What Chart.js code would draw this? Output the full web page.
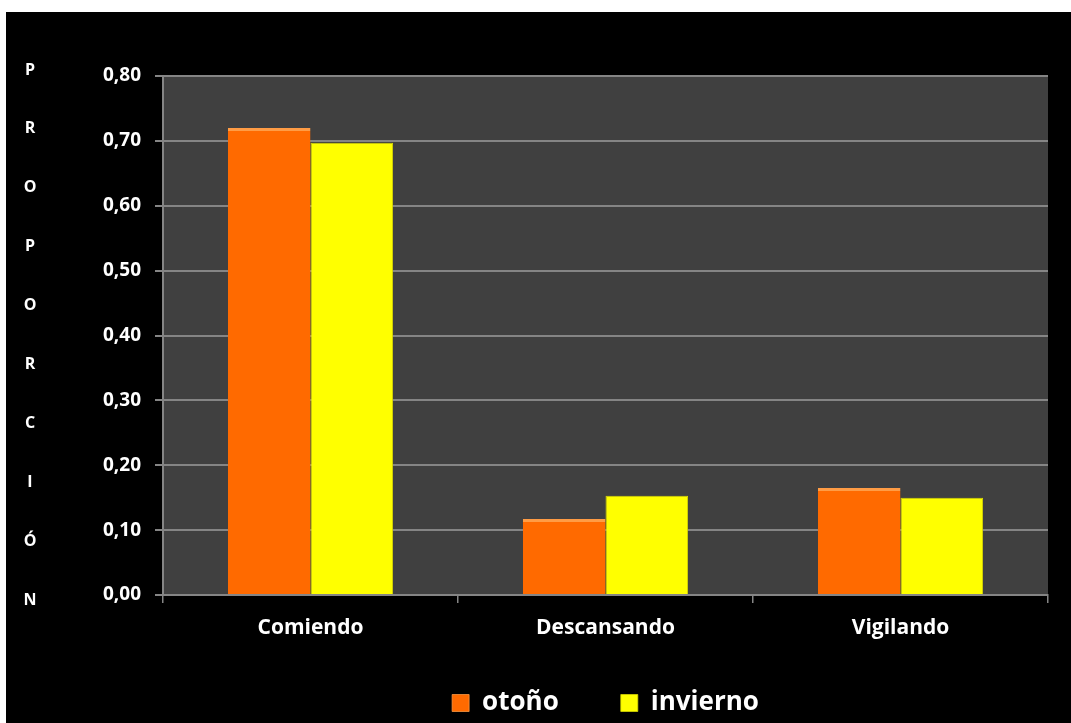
<!DOCTYPE html>
<html>
<head>
<meta charset="utf-8">
<script src="https://cdn.jsdelivr.net/npm/chart.js@4/dist/chart.umd.min.js"></script>
<style>
  html, body { margin: 0; padding: 0; background: #ffffff; }
  #myChart { position: absolute; left: 6px; top: 12px; background: #000000; }
</style>
</head>
<body>
<canvas id="myChart" width="1065" height="711"></canvas>
<script>
const categories = ['Comiendo', 'Descansando', 'Vigilando'];
const otono = [0.72, 0.117, 0.165];
const invierno = [0.697, 0.153, 0.150];
const yTickLabels = ['0,00', '0,10', '0,20', '0,30', '0,40', '0,50', '0,60', '0,70', '0,80'];
const yTitle = 'PROPORCIÓN';

const fontFamily = '"Open Sans", "DejaVu Sans", sans-serif';
const gridGray = '#858585';

// dark gray panel behind the bars
const plotBackground = {
  id: 'plotBackground',
  beforeDraw(chart) {
    const a = chart.chartArea;
    const c = chart.ctx;
    c.save();
    c.fillStyle = '#404040';
    c.fillRect(a.left, a.top, a.right - a.left, a.bottom - a.top);
    c.restore();
  }
};

// the wide item spacing also pads the legend vertically, pull it back up
const legendLift = {
  id: 'legendLift',
  afterLayout(chart) {
    chart.legend.top -= 39;
    chart.legend.bottom -= 39;
  }
};

// axis title written as a column of letters
const stackedTitle = {
  id: 'stackedTitle',
  afterDraw(chart) {
    const c = chart.ctx;
    const letters = yTitle.split('');
    const top = 58, bottom = 588;
    const step = (bottom - top) / (letters.length - 1);
    c.save();
    c.fillStyle = '#ffffff';
    c.font = 'bold 16px ' + fontFamily;
    c.textAlign = 'center';
    c.textBaseline = 'middle';
    letters.forEach((ch, i) => c.fillText(ch, 24, top + i * step));
    c.restore();
  }
};

const ctx = document.getElementById('myChart');

new Chart(ctx, {
  type: 'bar',
  data: {
    labels: categories,
    datasets: [{
      label: 'otoño',
      data: otono,
      backgroundColor: '#FF6A00',
      borderColor: '#FF9C45',
      borderWidth: { top: 3, left: 0, right: 0, bottom: 0 },
      borderSkipped: false
    }, {
      label: 'invierno',
      data: invierno,
      backgroundColor: '#FFFF00',
      borderColor: '#D8D800',
      borderWidth: { top: 1, left: 1, right: 1, bottom: 0 },
      borderSkipped: false
    }]
  },
  options: {
    responsive: false,
    animation: false,
    layout: { padding: { left: 0, top: 64, right: 23, bottom: -42 } },
    datasets: {
      bar: { categoryPercentage: 0.56, barPercentage: 1.0 }
    },
    plugins: {
      tooltip: { enabled: false },
      legend: {
        position: 'bottom',
        fullSize: false,
        labels: {
          color: '#ffffff',
          font: { family: fontFamily, size: 26, weight: 'bold' },
          boxWidth: 17,
          boxHeight: 17,
          padding: 62
        }
      }
    },
    scales: {
      x: {
        afterFit: (scale) => { scale.height = 72; },
        grid: {
          offset: true,
          drawOnChartArea: false,
          drawTicks: true,
          tickLength: 8,
          color: gridGray,
          lineWidth: 1.5
        },
        border: { color: gridGray, width: 2 },
        ticks: {
          color: '#ffffff',
          padding: 12,
          font: { family: fontFamily, size: 21, weight: 'bold' }
        }
      },
      y: {
        min: 0,
        max: 0.8,
        afterFit: (scale) => { scale.width = 157; },
        grid: {
          color: gridGray,
          lineWidth: 2,
          tickLength: 8
        },
        border: { color: gridGray, width: 2 },
        ticks: {
          stepSize: 0.1,
          color: '#ffffff',
          padding: 14,
          font: { family: fontFamily, size: 19, weight: 'bold' },
          callback: (value, index) => yTickLabels[index]
        }
      }
    }
  },
  plugins: [plotBackground, legendLift, stackedTitle]
});
</script>
</body>
</html>
